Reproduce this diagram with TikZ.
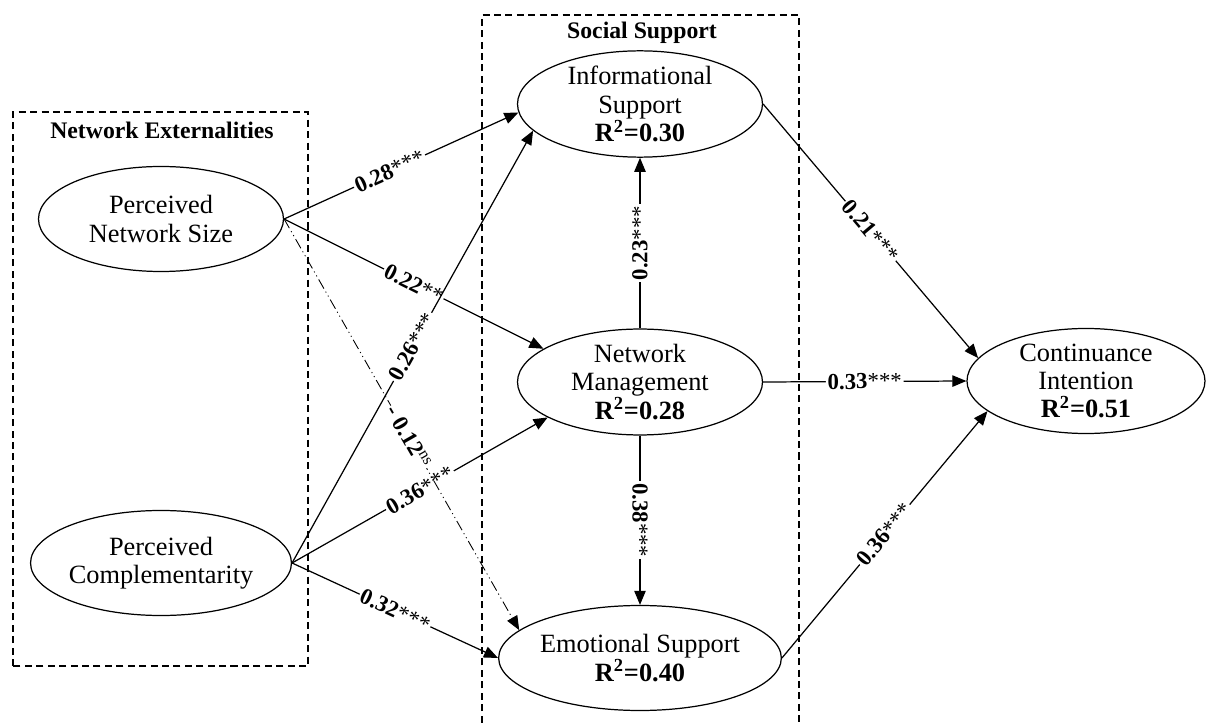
\documentclass[tikz,border=0pt]{standalone}
\usepackage{fontspec}
\setmainfont{Liberation Serif}
\usetikzlibrary{shapes.geometric,arrows.meta}

\begin{document}
\begin{tikzpicture}[line width=0.7pt,
  construct/.style={ellipse,draw,minimum width=4.9cm,minimum height=2.1cm,inner sep=0pt,align=center,font=\fontsize{15}{16}\selectfont},
  effect/.style={-{Triangle[length=8pt,width=6.5pt]}},
  coef/.style={midway,sloped,fill=white,inner sep=1pt,font=\fontsize{13}{13}\selectfont},
  groupbox/.style={dash pattern=on 4pt off 2.5pt,line width=0.6pt},
  nsline/.style={dash pattern=on 6pt off 2pt on 0.6pt off 2pt on 0.6pt off 2pt,line width=0.5pt}]
\useasboundingbox (0,0) rectangle (24.12,14.48);
% groups
\draw[groupbox] (0.26,1.16) rectangle (6.16,12.24);
\draw[groupbox] (9.64,-0.2) |- (15.98,14.18) -- (15.98,-0.2);
\node (netext) at (3.24,11.88) [font=\fontsize{13.5}{13.5}\selectfont\bfseries] {Network Externalities};
\node (socsup) at (12.84,13.82) [font=\fontsize{13.5}{13.5}\selectfont\bfseries] {Social Support};
% constructs
\node (pns) at (3.22,10.1) [construct] {Perceived\\Network Size};
\node (pc) at (3.22,3.22) [construct] {Perceived\\Complementarity};
\node (is) at (12.8,12.4) [construct] {Informational\\Support\\\textbf{R\textsuperscript{2}=0.30}};
\node (nm) at (12.8,6.84) [construct] {Network\\Management\\\textbf{R\textsuperscript{2}=0.28}};
\node (es) at (12.8,1.32) [construct] {Emotional Support\\\textbf{R\textsuperscript{2}=0.40}};
\node (ci) at (21.72,6.86) [construct,minimum width=4.76cm] {Continuance\\Intention\\\textbf{R\textsuperscript{2}=0.51}};
% paths
\draw[effect] (pns.east) -- node[coef,pos=0.45] {\textbf{0.28}***} (is.184);
\draw[effect] (pns.east) -- node[coef] {\textbf{0.22}**} (nm.161);
\draw[effect] (pc.east) -- node[coef] {\textbf{0.26}***} (is.194);
\draw[effect] (pc.east) -- node[coef] {\textbf{0.36}***} (nm.201);
\draw[effect,nsline] (pns.east) -- node[coef,pos=0.53] {\textbf{- 0.12}\textsuperscript{ns}} (es.167);
\draw[effect] (pc.east) -- node[coef] {\textbf{0.32}***} (es.west);
\draw[effect] (nm.north) -- node[coef,sloped=false,rotate=90] {\textbf{0.23}***} (is.south);
\draw[effect] (nm.south) -- node[coef,sloped=false,rotate=-90] {\textbf{0.38}***} (es.north);
\draw[effect] (is.east) -- node[coef] {\textbf{0.21}***} (ci.168);
\draw[effect] (nm.east) -- node[coef] {\textbf{0.33}***} (ci.west);
\draw[effect] (es.east) -- node[coef] {\textbf{0.36}***} (ci.197);
\end{tikzpicture}
\end{document}
